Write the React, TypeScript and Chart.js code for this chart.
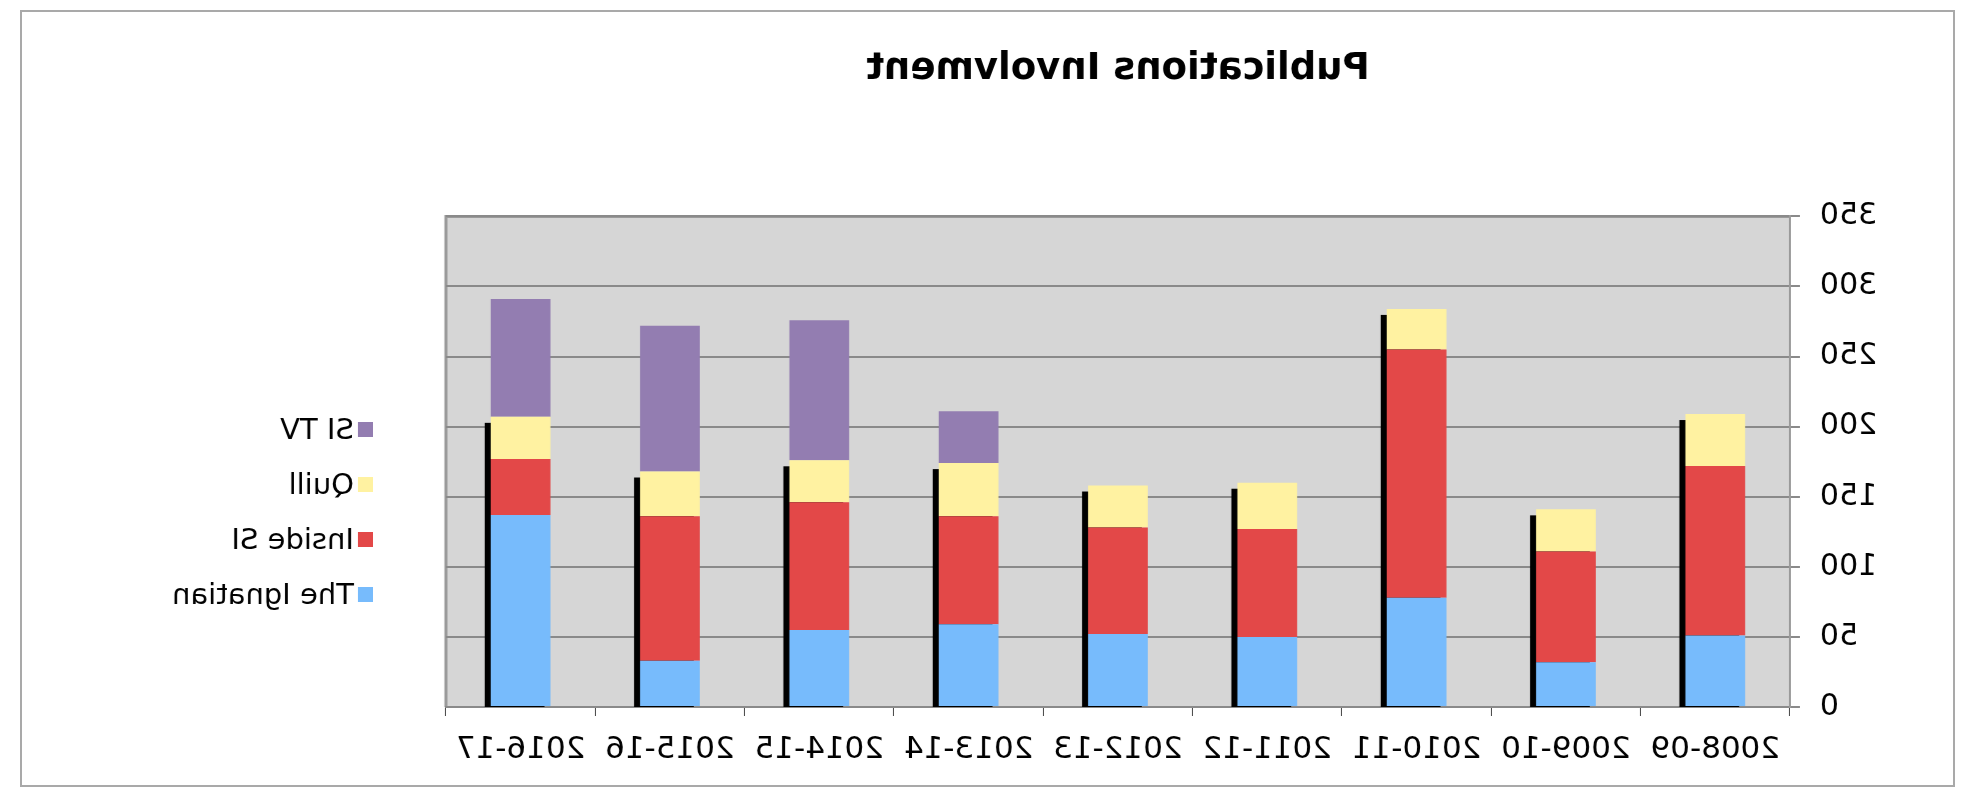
import { useRef, useEffect } from 'react';
import { Chart, registerables } from 'chart.js';

Chart.register(...registerables);

const years = ['2008-09', '2009-10', '2010-11', '2011-12', '2012-13', '2013-14', '2014-15', '2015-16', '2016-17'];
const ignatian = [51, 32, 78, 50, 52, 59, 55, 33, 137];
const insideSI = [121, 79, 177, 77, 76, 77, 91, 103, 40];
const quill = [37, 30, 29, 33, 30, 38, 30, 32, 30];
const siTV = [null, null, null, null, null, 37, 100, 104, 84];
const yTicks = [0, 50, 100, 150, 200, 250, 300, 350];

const seriesNames = ['The Ignatian', 'Inside SI', 'Quill', 'SI TV'];
const seriesColors = ['#77bbfc', '#e34848', '#fff2a1', '#937db1'];

const FONT = '"DejaVu Sans", Verdana, sans-serif';

// grey plot area + the frame line on its far side
const plotBackground = {
  id: 'plotBackground',
  beforeDraw(chart: any) {
    const { ctx, chartArea: a } = chart;
    ctx.save();
    ctx.fillStyle = '#d6d6d6';
    ctx.fillRect(a.left, a.top, a.right - a.left, a.bottom - a.top);
    ctx.strokeStyle = '#9a9a9a';
    ctx.lineWidth = 3;
    ctx.beginPath();
    ctx.moveTo(a.left, a.top);
    ctx.lineTo(a.right, a.top);
    ctx.lineTo(a.right, a.bottom);
    ctx.stroke();
    ctx.restore();
  },
};

// black drop shadow behind the first three stacked series
const barShadow = {
  id: 'barShadow',
  beforeDatasetsDraw(chart: any) {
    const { ctx, chartArea: a } = chart;
    const meta = chart.getDatasetMeta(2);
    ctx.save();
    ctx.beginPath();
    ctx.rect(a.left, a.top, a.right - a.left, a.bottom - a.top);
    ctx.clip();
    ctx.fillStyle = '#000000';
    meta.data.forEach((bar: any) => {
      const left = bar.x - bar.width / 2 + 6;
      ctx.fillRect(left, bar.y + 6, bar.width, a.bottom - bar.y);
    });
    ctx.restore();
  },
};

export default function App() {
  const canvasRef = useRef<HTMLCanvasElement>(null);
  const chartRef = useRef<Chart | null>(null);

  useEffect(() => {
    if (!canvasRef.current) return;
    if (chartRef.current) chartRef.current.destroy();

    const values = [ignatian, insideSI, quill, siTV];

    chartRef.current = new Chart(canvasRef.current, {
      type: 'bar',
      data: {
        labels: years,
        datasets: values.map((v, i) => ({
          label: seriesNames[i],
          data: v as any,
          backgroundColor: seriesColors[i],
          borderWidth: 0,
          categoryPercentage: 1,
          barPercentage: 0.4,
        })),
      },
      options: {
        responsive: true,
        maintainAspectRatio: false,
        animation: false,
        layout: { padding: { left: 0, right: 424, top: 0, bottom: 0 } },
        plugins: {
          legend: { display: false },
          tooltip: { enabled: false },
          title: {
            display: true,
            text: 'Publications Involvment',
            fullSize: false,
            color: '#000',
            font: { family: FONT, size: 37, weight: 'bold' },
            padding: { top: 35, bottom: 125 },
          },
        },
        scales: {
          x: {
            stacked: true,
            afterFit: (s: any) => { s.height = 78; },
            grid: { offset: true, drawOnChartArea: false, drawTicks: true, tickLength: 9, color: '#444', lineWidth: 1 },
            border: { color: '#8a8a8a', width: 2 },
            ticks: { color: '#000', padding: 15, font: { family: FONT, size: 31 }, maxRotation: 0, autoSkip: false },
          },
          y: {
            stacked: true,
            min: 0,
            max: 350,
            afterFit: (s: any) => { s.width = 163; },
            afterBuildTicks: (s: any) => { s.ticks = yTicks.map(v => ({ value: v })); },
            grid: { color: '#8a8a8a', lineWidth: 2, tickLength: 10 },
            border: { color: '#9a9a9a', width: 2 },
            ticks: { color: '#000', padding: 20, font: { family: FONT, size: 30 } },
          },
        },
      },
      plugins: [plotBackground, barShadow],
    });

    return () => {
      if (chartRef.current) { chartRef.current.destroy(); chartRef.current = null; }
    };
  }, []);

  const legendRows = seriesNames.map((name, i) => ({ name, color: seriesColors[i] })).reverse();

  return (
    <div style={{ position: 'absolute', left: 0, top: 0, width: 1962, height: 806, overflow: 'hidden', background: '#fff', transform: 'scaleX(-1)' }}>
      <div style={{ position: 'absolute', left: 7, top: 10, width: 1935, height: 777, border: '2px solid #a9a9a9', boxSizing: 'border-box', background: '#fff' }}>
        <canvas ref={canvasRef} />
      </div>
      <div style={{ position: 'absolute', left: 1589, top: 402, fontFamily: FONT, fontSize: 29, color: '#000' }}>
        {legendRows.map(r => (
          <div key={r.name} style={{ display: 'flex', alignItems: 'center', height: 55, whiteSpace: 'nowrap' }}>
            <span style={{ display: 'inline-block', width: 15, height: 15, background: r.color, marginRight: 4 }} />
            <span style={{ lineHeight: 1 }}>{r.name}</span>
          </div>
        ))}
      </div>
    </div>
  );
}
